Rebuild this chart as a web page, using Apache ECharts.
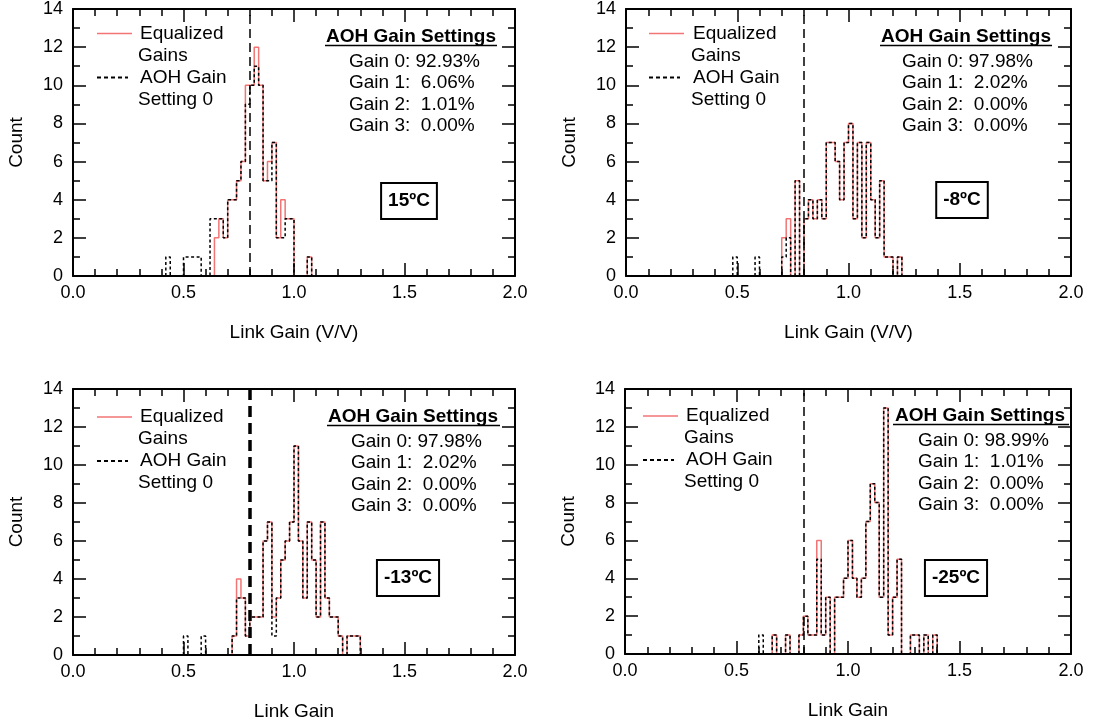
<!DOCTYPE html>
<html>
<head>
<meta charset="utf-8">
<script src="https://cdn.jsdelivr.net/npm/echarts@6/dist/echarts.min.js"></script>
<style>
html,body{margin:0;padding:0;background:#fff;}
#chart{width:1093px;height:722px;}
</style>
</head>
<body>
<div id="chart"></div>
<script>
// ---------------- data ----------------
const BIN_WIDTH = 0.02;
const THRESHOLD = 0.8;
const xTickLabels = ['0.0', '0.5', '1.0', '1.5', '2.0'];
const yTickLabels = ['0', '2', '4', '6', '8', '10', '12', '14'];
const xTitles = ['Link Gain (V/V)', 'Link Gain (V/V)', 'Link Gain', 'Link Gain'];
const temps = ['15ºC', '-8ºC', '-13ºC', '-25ºC'];
const legendNames = ['Equalized Gains', 'AOH Gain Setting 0'];

const p1Gains = ['Gain 0: 92.93%', 'Gain 1:  6.06%', 'Gain 2:  1.01%', 'Gain 3:  0.00%'];
const p2Gains = ['Gain 0: 97.98%', 'Gain 1:  2.02%', 'Gain 2:  0.00%', 'Gain 3:  0.00%'];
const p3Gains = ['Gain 0: 97.98%', 'Gain 1:  2.02%', 'Gain 2:  0.00%', 'Gain 3:  0.00%'];
const p4Gains = ['Gain 0: 98.99%', 'Gain 1:  1.01%', 'Gain 2:  0.00%', 'Gain 3:  0.00%'];

// histogram counts per 0.02 bin, starting at the given left edge
const p1EqStart = 0.64;
const p1EqCounts = [2,3,2,4,4,5,6,10,10,12,10,5,6,7,2,4,3,3,0,0,0,1];
const p1G0Start = 0.42;
const p1G0Counts = [1,0,0,0,1,1,1,1,0,0,3,3,3,2,4,4,5,6,9,10,11,10,5,5,7,2,2,3,3,0,0,0,1];

const p2EqStart = 0.70;
const p2EqCounts = [2,3,0,5,0,3,4,3,4,3,7,7,6,4,7,8,3,7,2,7,4,2,5,1,1,0,1];
const p2G0Start = 0.48;
const p2G0Counts = [1,0,0,0,0,1,0,0,0,0,0,1,2,0,5,0,3,4,3,4,3,7,7,6,4,7,8,3,7,2,7,4,2,5,1,1,0,1];

const p3EqStart = 0.72;
const p3EqCounts = [1,4,3,1,2,2,2,6,7,2,3,5,6,7,11,6,3,7,5,2,7,3,2,2,1,0,1,1,1];
const p3G0Start = 0.50;
const p3G0Counts = [1,0,0,0,1,0,0,0,0,0,0,1,3,3,1,2,2,2,6,7,1,3,5,6,7,11,6,3,7,5,2,7,3,2,2,1,0,1,1,1];

const p4EqStart = 0.66;
const p4EqCounts = [1,0,0,1,0,0,1,2,1,1,6,1,3,0,3,3,4,6,4,3,4,7,9,8,3,13,1,3,5,0,0,1,1,0,1,0,1];
const p4G0Start = 0.60;
const p4G0Counts = [1,0,0,1,0,0,1,0,0,1,2,1,1,5,1,3,0,3,3,4,6,4,3,4,7,9,8,3,13,1,3,5,0,0,1,1,0,1,0,1];

// ---------------- layout / style ----------------
const FONT = '"Liberation Sans", Arial, Helvetica, sans-serif';
const RED = '#f27474';
const grids = [
  {left: 73,  top: 9,   width: 442, height: 267},
  {left: 626, top: 9,   width: 445, height: 267},
  {left: 73,  top: 389, width: 442, height: 266},
  {left: 625, top: 389, width: 446, height: 265}
];
const panels = [
  {eqS: p1EqStart, eq: p1EqCounts, g0S: p1G0Start, g0: p1G0Counts, gains: p1Gains, thr: 1.5,
   leg: {sx1: 97, sx2: 132, bx2: 128, tx: 140, tx2: 138, y: 33.5},
   head: {cx: 411, y: 37, u1: 325, u2: 497, gx: 349},
   box: {x: 409, y: 201}},
  {eqS: p2EqStart, eq: p2EqCounts, g0S: p2G0Start, g0: p2G0Counts, gains: p2Gains, thr: 1.5,
   leg: {sx1: 649, sx2: 684, bx2: 680, tx: 693, tx2: 691, y: 33.5},
   head: {cx: 966, y: 37, u1: 880, u2: 1052, gx: 902},
   box: {x: 962, y: 200}},
  {eqS: p3EqStart, eq: p3EqCounts, g0S: p3G0Start, g0: p3G0Counts, gains: p3Gains, thr: 3.5,
   leg: {sx1: 97, sx2: 132, bx2: 128, tx: 140, tx2: 138, y: 417},
   head: {cx: 413, y: 417, u1: 327, u2: 500, gx: 351},
   box: {x: 408, y: 578}},
  {eqS: p4EqStart, eq: p4EqCounts, g0S: p4G0Start, g0: p4G0Counts, gains: p4Gains, thr: 1.5,
   leg: {sx1: 643, sx2: 678, bx2: 674, tx: 686, tx2: 684, y: 416},
   head: {cx: 980, y: 416, u1: 893, u2: 1069, gx: 918},
   box: {x: 956, y: 578}}
];

function stepData(start, counts) {
  const pts = [[start, 0]];
  counts.forEach((c, i) => pts.push([+(start + i * BIN_WIDTH).toFixed(4), c]));
  pts.push([+(start + counts.length * BIN_WIDTH).toFixed(4), 0]);
  return pts;
}

const axisLineStyle = {color: '#000', width: 2};
const tickStyle = {color: '#000', width: 1.5};

const xAxes = [], yAxes = [], series = [], graphic = [];
grids.forEach((g, gi) => {
  const common = {
    gridIndex: gi, type: 'value', min: 0, max: 2, interval: 0.5, z: 10,
    axisLine: {onZero: false, lineStyle: axisLineStyle},
    axisTick: {inside: true, length: 13, lineStyle: tickStyle},
    minorTick: {show: true, splitNumber: 5, length: 7, lineStyle: tickStyle},
    splitLine: {show: false}, minorSplitLine: {show: false}
  };
  xAxes.push(Object.assign({}, common, {
    position: 'bottom',
    axisLabel: {color: '#000', fontSize: 18, fontFamily: FONT, margin: 8,
      formatter: v => xTickLabels[Math.round(v / 0.5)]},
    name: xTitles[gi], nameLocation: 'middle', nameGap: gi < 2 ? 47 : 47,
    nameTextStyle: {color: '#000', fontSize: 19, fontFamily: FONT}
  }));
  xAxes.push(Object.assign({}, common, {position: 'top', axisLabel: {show: false}}));
  const ycommon = {
    gridIndex: gi, type: 'value', min: 0, max: 14, interval: 2, z: 10,
    axisLine: {onZero: false, lineStyle: axisLineStyle},
    axisTick: {inside: true, length: 13, lineStyle: tickStyle},
    minorTick: {show: true, splitNumber: 2, length: 7, lineStyle: tickStyle},
    splitLine: {show: false}, minorSplitLine: {show: false}
  };
  yAxes.push(Object.assign({}, ycommon, {
    position: 'left',
    axisLabel: {color: '#000', fontSize: 18, fontFamily: FONT, margin: 10,
      formatter: v => yTickLabels[Math.round(v / 2)]},
    name: 'Count', nameLocation: 'middle', nameGap: 47,
    nameTextStyle: {color: '#000', fontSize: 19, fontFamily: FONT}
  }));
  yAxes.push(Object.assign({}, ycommon, {position: 'right', axisLabel: {show: false}}));

  const p = panels[gi];
  series.push({
    name: legendNames[0], type: 'line', step: 'end', xAxisIndex: gi * 2, yAxisIndex: gi * 2,
    data: stepData(p.eqS, p.eq), symbol: 'none', z: 2,
    lineStyle: {color: RED, width: 1.5}, animation: false
  });
  series.push({
    name: legendNames[1], type: 'line', step: 'end', xAxisIndex: gi * 2, yAxisIndex: gi * 2,
    data: stepData(p.g0S, p.g0), symbol: 'none', z: 3,
    lineStyle: {color: '#000', width: 1.5, type: [3, 2.5]}, animation: false,
    markLine: {
      silent: true, symbol: 'none', label: {show: false}, animation: false,
      lineStyle: {color: '#000', width: p.thr, type: p.thr > 2 ? [11, 6] : [9, 5]},
      data: [{xAxis: THRESHOLD}]
    }
  });

  // legend
  const L = p.leg;
  const tstyle = (t, x, y) => ({type: 'text', x: x, y: y, z: 20,
    style: {text: t, font: '19px ' + FONT, fill: '#000', align: 'left', verticalAlign: 'middle'}});
  graphic.push({type: 'line', z: 20, shape: {x1: L.sx1, y1: L.y, x2: L.sx2, y2: L.y},
    style: {stroke: RED, lineWidth: 1.5}});
  graphic.push({type: 'line', z: 20, shape: {x1: L.sx1, y1: L.y + 44, x2: L.bx2, y2: L.y + 44},
    style: {stroke: '#000', lineWidth: 2, lineDash: [4, 3]}});
  graphic.push(tstyle('Equalized', L.tx, L.y));
  graphic.push(tstyle('Gains', L.tx2, L.y + 22));
  graphic.push(tstyle('AOH Gain', L.tx, L.y + 44));
  graphic.push(tstyle('Setting 0', L.tx2, L.y + 66));

  // gain settings block
  const H = p.head;
  graphic.push({type: 'text', x: H.cx, y: H.y, z: 20,
    style: {text: 'AOH Gain Settings', font: 'bold 19px ' + FONT, fill: '#000', align: 'center', verticalAlign: 'middle'}});
  graphic.push({type: 'line', z: 20, shape: {x1: H.u1, y1: H.y + 8.5, x2: H.u2, y2: H.y + 8.5},
    style: {stroke: '#000', lineWidth: 1.5}});
  p.gains.forEach((t, k) => {
    graphic.push({type: 'text', x: H.gx, y: H.y + 24.7 + k * 21.4, z: 20,
      style: {text: t, font: '19px ' + FONT, fill: '#000', align: 'left', verticalAlign: 'middle', whiteSpace: 'pre'}});
  });

  // temperature box
  graphic.push({type: 'text', x: p.box.x, y: p.box.y, z: 20,
    style: {text: temps[gi], font: 'bold 19px ' + FONT, fill: '#000', align: 'center', verticalAlign: 'middle',
      backgroundColor: '#fff', borderColor: '#000', borderWidth: 2, padding: [8, 6, 7, 6]}});
});

const chart = echarts.init(document.getElementById('chart'), null, {renderer: 'canvas'});
chart.setOption({
  animation: false,
  backgroundColor: '#fff',
  grid: grids,
  xAxis: xAxes,
  yAxis: yAxes,
  series: series,
  graphic: graphic
});
</script>
</body>
</html>
